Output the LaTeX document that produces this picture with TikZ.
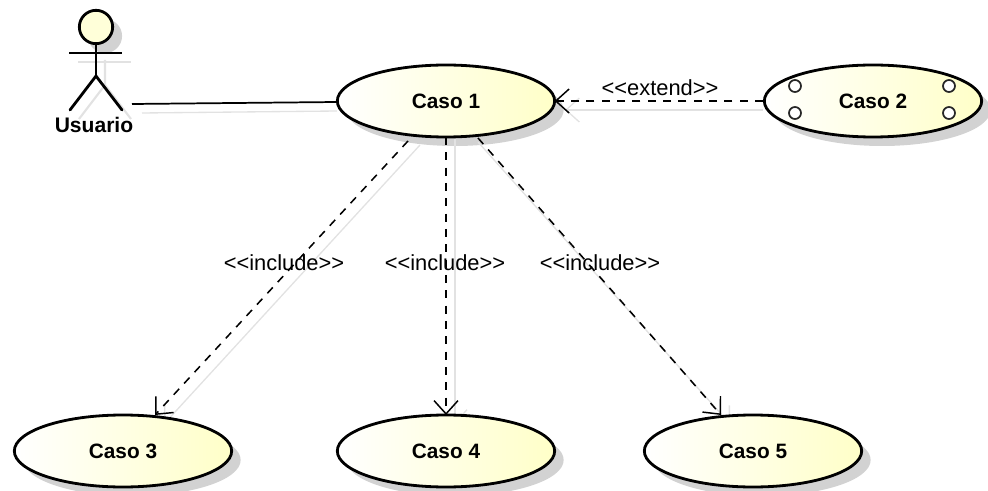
\documentclass[tikz,border=0pt]{standalone}
\usepackage{fontspec}
\setmainfont{Liberation Sans}
\usetikzlibrary{shapes.geometric,arrows.meta}
\definecolor{ucyellow}{HTML}{FFFFC8}
\definecolor{ucshadow}{HTML}{D2D2D2}
\definecolor{lnshadow}{HTML}{E2E2E2}
\tikzset{
  px/.style={x=0.75pt,y=-0.75pt},
  usecase/.style={ellipse,draw=black,line width=2.1pt,left color=white,right color=ucyellow,
    minimum width=163pt,minimum height=54pt,inner sep=0pt,outer sep=0pt,
    font=\fontsize{15.6}{18}\selectfont\bfseries},
  casesh/.style={ellipse,fill=ucshadow,minimum width=163pt,minimum height=54pt,inner sep=0pt,outer sep=0pt},
  dep/.style={line width=1.15pt,dash pattern=on 6pt off 5.5pt,-{Straight Barb[length=10pt,width=18pt,line width=1.1pt]}},
  depsh/.style={line width=1pt,draw=lnshadow,-{Straight Barb[length=10pt,width=18pt,line width=1pt]}},
  assoc/.style={line width=1.3pt},
  lbl/.style={inner sep=0pt,font=\fontsize{16.4}{18}\selectfont,text=black},
  actorln/.style={line width=2.1pt,line cap=round},
  actorsh/.style={line width=1.6pt,draw=lnshadow},
  portc/.style={circle,draw=black!85,line width=1.3pt,fill=white,minimum size=9pt,inner sep=0pt},
}
\begin{document}
\begin{tikzpicture}[px]
\useasboundingbox (0,0) rectangle (988,491);
% shadows of the use cases
\node[casesh] at (455,110) {};
\node[casesh] at (882,110) {};
\node[casesh] at (132,460) {};
\node[casesh] at (455,460) {};
\node[casesh] at (762,460) {};
% actor (shadow, then figure)
\fill[ucshadow] (105,36) circle (12.8pt);
\draw[actorsh] (78,62) -- (131,62);
\draw[actorsh] (105,60) -- (105,85) -- (79,119);
\draw[actorsh] (105,85) -- (131,119);
% named free ends
\coordinate (actorhand) at (132,104);
\coordinate (incA) at (408,141);
\coordinate (incC) at (478,138);
\coordinate (end3) at (155,415);
\coordinate (end5) at (721,415);
\coordinate (extS) at (763,101);
\coordinate (extE) at (556,101);
\coordinate (assocE) at (337,102);
% connector shadows
\draw[actorsh,line width=1pt] ([shift={(10,9)}]actorhand) -- ([shift={(0,9)}]assocE);
\draw[depsh] ([shift={(12,4)}]incA) -- ([shift={(9,9)}]end3);
\draw[depsh] (455,139) -- (455,424);
\draw[depsh] ([shift={(0,4)}]incC) -- ([shift={(9,9)}]end5);
\draw[depsh] ([shift={(0,9)}]extS) -- ([shift={(9,9)}]extE);
% use cases
\node[usecase] (c1) at (446,101) {Caso 1};
\node[usecase] (c2) at (873,101) {Caso 2};
\node[usecase] (c3) at (123,451) {Caso 3};
\node[usecase] (c4) at (446,451) {Caso 4};
\node[usecase] (c5) at (753,451) {Caso 5};
% extension points
\node[portc] (p1) at (795,86) {};
\node[portc] (p2) at (795,113) {};
\node[portc] (p3) at (949,86) {};
\node[portc] (p4) at (949,113) {};
% actor
\node[circle,draw=black,line width=2.1pt,fill=ucyellow!70,minimum size=25pt,inner sep=0pt,outer sep=0pt] (head) at (96,27) {};
\coordinate (armL) at (69,53);
\coordinate (armR) at (122,53);
\coordinate (hip) at (96,76);
\coordinate (legL) at (70,110);
\coordinate (legR) at (122,110);
\draw[actorln,line cap=butt] (armL) -- (armR);
\draw[actorln,line cap=butt] (head.south) -- (hip);
\draw[actorln] (legL) -- (hip) -- (legR);
\node[inner sep=0pt,font=\fontsize{15.8}{18}\selectfont\bfseries] (usr) at (94,125) {Usuario};
% connectors
\draw[assoc] (actorhand) -- (c1.west |- assocE);
\draw[dep] (extS) -- (c1.east);
\draw[dep] (incA) -- (end3);
\draw[dep] (c1.south) -- (c4.north);
\draw[dep] (incC) -- (end5);
% labels
\node[lbl] at (660,88) {<{}<extend>{}>};
\node[lbl] at (284,263) {<{}<include>{}>};
\node[lbl] at (445,263) {<{}<include>{}>};
\node[lbl] at (600,263) {<{}<include>{}>};
\end{tikzpicture}
\end{document}
